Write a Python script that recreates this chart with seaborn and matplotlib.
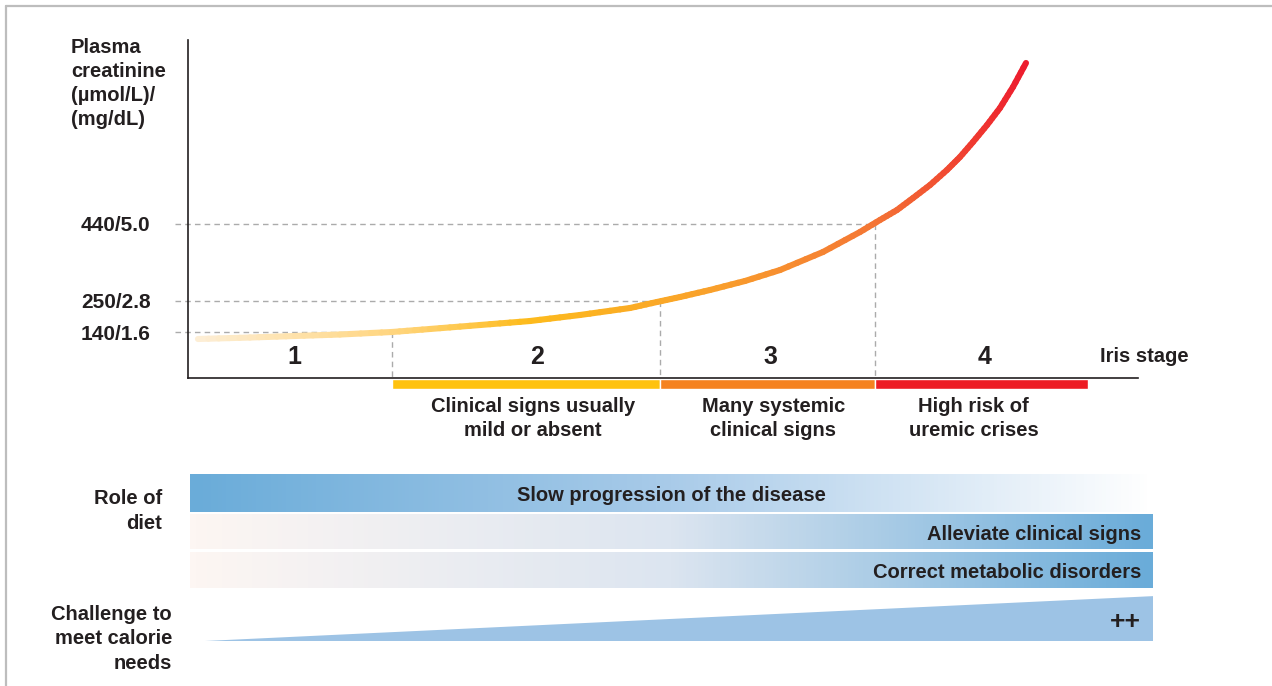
import numpy as np
import matplotlib.pyplot as plt
import seaborn as sns
from matplotlib.collections import LineCollection
from matplotlib.colors import LinearSegmentedColormap
from matplotlib.lines import Line2D

# --- data (schematic units 0-100) ---
curve_x = [1.05, 6.53, 11.26, 16.0, 21.47, 25.47, 30.74, 36.0, 41.26, 46.53,
           49.37, 51.79, 54.95, 58.63, 62.32, 66.84, 70.74, 72.84, 74.63,
           76.32, 78.11, 79.89, 81.26, 82.63, 84.11, 85.47, 86.84, 88.21]
curve_y = [11.54, 11.98, 12.43, 12.87, 13.61, 14.50, 15.68, 16.86, 18.64,
           20.71, 22.49, 23.96, 26.04, 28.70, 31.95, 37.28, 43.20, 46.75,
           49.70, 53.25, 57.10, 61.54, 65.38, 69.82, 74.85, 79.88, 86.09,
           93.20]

tick_levels = [13.6, 22.8, 45.6]
tick_labels = ["140/1.6", "250/2.8", "440/5.0"]

stage_edges = [0, 21.5, 49.7, 72.3, 94.7]
stage_names = ["1", "2", "3", "4"]
stage_label_x = [11.2, 36.7, 61.3, 83.9]
stage_colors = [None, "#FFC20E", "#F58220", "#ED1C24"]
stage_notes = ["", "Clinical signs usually\nmild or absent",
               "Many systemic\nclinical signs", "High risk of\nuremic crises"]
stage_note_x = [0, 36.3, 61.6, 82.7]

role_labels = ["Slow progression of the disease", "Alleviate clinical signs",
               "Correct metabolic disorders"]
role_rising = [False, True, True]
row_top = [0.0, 1.03, 2.0]
row_bottom = [0.97, 1.92, 2.92]

TEXT = "#231F20"
FS = 14.5
LS = 1.34
W, H = 1272, 686

sns.set_theme(style="white")
plt.rcParams["font.family"] = ["Liberation Sans", "DejaVu Sans"]
plt.rcParams["font.weight"] = "bold"

fig = plt.figure(figsize=(W / 100, H / 100), dpi=100)
fig.patch.set_facecolor("white")


def fx(p):
    return p / W


def fy(p):
    return 1 - p / H


# frame lines on top and left
fig.add_artist(Line2D([fx(6), 1], [fy(6), fy(6)], color="#BDBDBD", lw=1.6))
fig.add_artist(Line2D([fx(6), fx(6)], [0, fy(6)], color="#BDBDBD", lw=1.6))

# --- main curve panel ---
ax = fig.add_axes([fx(188), fy(378), 950 / W, 338 / H])
ax.set_xlim(0, 100)
ax.set_ylim(0, 100)
ax.set_facecolor("none")
for s in ["top", "right"]:
    ax.spines[s].set_visible(False)
for s in ["left", "bottom"]:
    ax.spines[s].set_color(TEXT)
    ax.spines[s].set_linewidth(1.2)
ax.set_xticks([])
ax.set_yticks(tick_levels, tick_labels)
ax.tick_params(axis="y", length=0, pad=27, labelsize=15, labelcolor=TEXT)

# dashed guide lines
for lev, edge in zip(tick_levels, stage_edges[1:4]):
    ax.plot([-1.4, edge], [lev, lev], ls=(0, (4, 3)), color="#ABABAB",
            lw=1, clip_on=False, zorder=1)
    ax.plot([edge, edge], [lev, 0], ls=(0, (4, 3)), color="#ABABAB",
            lw=1, clip_on=False, zorder=1)

# gradient curve
curve_cmap = LinearSegmentedColormap.from_list(
    "crea", [(0.0, "#FDEED6"), (0.24, "#FFD57E"), (0.40, "#FDBB1D"),
             (0.62, "#F9A12B"), (0.82, "#F47635"), (1.0, "#ED1C2E")])
px_ = np.array(curve_x)
py_ = np.array(curve_y)
segs, cols = [], []
for i in range(len(px_) - 1):
    xs = np.linspace(px_[i], px_[i + 1], 6)
    ys = np.linspace(py_[i], py_[i + 1], 6)
    for j in range(5):
        segs.append([(xs[j], ys[j]), (xs[j + 1], ys[j + 1])])
        t = ((xs[j] + xs[j + 1]) / 2 - px_[0]) / (px_[-1] - px_[0])
        cols.append(curve_cmap(t))
lc = LineCollection(segs, colors=cols, linewidths=4.4, capstyle="round",
                    joinstyle="round", zorder=3)
ax.add_collection(lc)

# stage bars + labels
for i in range(4):
    if stage_colors[i]:
        ax.bar((stage_edges[i] + stage_edges[i + 1]) / 2, -3.1,
               width=stage_edges[i + 1] - stage_edges[i], bottom=-0.3,
               color=stage_colors[i], clip_on=False, zorder=2)
    ax.text(stage_label_x[i], 6.3, stage_names[i], ha="center", va="center",
            fontsize=18, color=TEXT, fontweight="bold")
    if stage_notes[i]:
        ax.text(stage_note_x[i], -12.0, stage_notes[i], ha="center",
                va="center", fontsize=FS, color=TEXT, linespacing=LS,
                clip_on=False)
ax.text(96.0, 6.3, "Iris stage", ha="left", va="center", fontsize=FS,
        color=TEXT, clip_on=False)

fig.text(fx(71), fy(38), "Plasma\ncreatinine\n(µmol/L)/\n(mg/dL)",
         ha="left", va="top", fontsize=FS, color=TEXT, linespacing=LS)

# --- role of diet panel ---
ax2 = fig.add_axes([fx(190), fy(641), 963 / W, 167 / H])
ax2.set_facecolor("none")
ax2.axis("off")
blue = "#6AACD9"
fall = LinearSegmentedColormap.from_list("fall", [blue, "#A9CBE9", "#FFFFFF"])
rise = LinearSegmentedColormap.from_list("rise", ["#FDF6F3", "#DCE5F0", blue])
grad = np.linspace(0, 1, 256).reshape(1, -1)
for lab, up, y0, y1 in zip(role_labels, role_rising, row_top, row_bottom):
    ax2.imshow(grad, cmap=rise if up else fall, aspect="auto",
               extent=[0, 100, y1, y0], interpolation="bilinear")
    yc = (y0 + y1) / 2 + 0.07
    if up:
        ax2.text(98.75, yc, lab, ha="right", va="center",
                 fontsize=FS, color=TEXT)
    else:
        ax2.text(50.0, yc, lab, ha="center", va="center",
                 fontsize=FS, color=TEXT)

ax2.fill([1.56, 100, 100], [4.28, 3.13, 4.28], color="#9DC3E5", lw=0)
ax2.text(98.75, 3.8, "++", ha="right", va="center", fontsize=19, color=TEXT)
ax2.set_xlim(0, 100)
ax2.set_ylim(4.28, 0)

fig.text(fx(162), fy(511), "Role of\ndiet", ha="right", va="center",
         fontsize=FS, color=TEXT, linespacing=LS)
fig.text(fx(172), fy(639), "Challenge to\nmeet calorie\nneeds", ha="right",
         va="center", fontsize=FS, color=TEXT, linespacing=LS)

fig.savefig("out.png", dpi=100, facecolor="white")
